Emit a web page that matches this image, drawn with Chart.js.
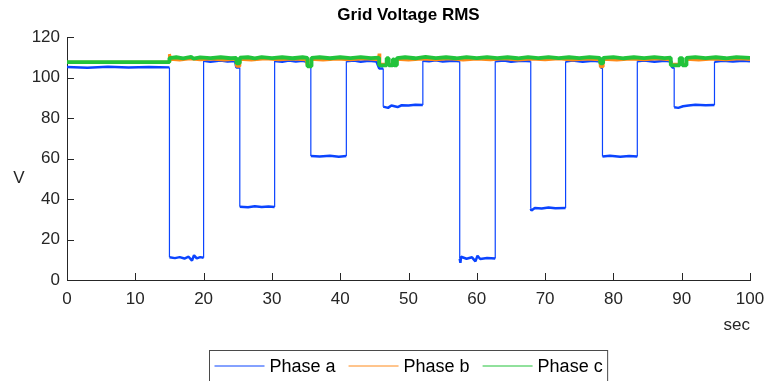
<!DOCTYPE html>
<html>
<head>
<meta charset="utf-8">
<title>Grid Voltage RMS</title>
<script src="https://cdn.jsdelivr.net/npm/chart.js@4.4.1/dist/chart.umd.min.js"></script>
<style>
  html, body { margin: 0; padding: 0; background: #fff; }
  canvas { display: block; }
</style>
</head>
<body>
<canvas id="rms" width="767" height="381"></canvas>
<script>
// [time in sec, RMS volts]
const phaseA = [
  [0,105.2],[3,104.8],[6,105.3],[9,104.9],[12,105.2],[15,105],
  [15,11.2],[15.8,10.8],[16.5,11.3],[17.2,10.6],[17.8,11.5],[18.3,9.6],[18.6,12.2],[19,10.7],[19.5,11.3],[20,11],
  [20,108.3],[21,107.8],[22.5,108.4],[23.5,107.9],[24.6,108.2],[24.8,105],[25.3,105],
  [25.3,36.2],[26.5,35.9],[27.5,36.4],[28.5,36],[29.5,36.3],[30.4,36],
  [30.4,108.2],[31.5,107.8],[32.5,108.4],[33.5,107.9],[34.5,108.3],[35.2,107.6],[35.3,106],[35.7,106],
  [35.7,61.2],[37,61],[38.5,61.4],[39.8,60.9],[40.9,61.2],
  [40.9,108],[42,108.4],[43,107.8],[44.2,108.3],[45.3,107.9],[45.7,104.5],[46.3,104.5],
  [46.3,85.6],[47,85],[47.5,86.2],[48.4,85.4],[49,86.3],[50,86.2],[51,86.5],[52.1,86.4],
  [52.1,108.3],[53,108],[54,108.5],[55,107.9],[56.5,108.3],[57.5,108],
  [57.5,10.5],[57.6,8.5],[57.7,11.5],[58.5,10.5],[59.3,11.2],[59.8,9.2],[60.1,12],[60.5,10.4],[61.5,10.9],[62.7,10.6],
  [62.7,108],[64,108.4],[65,107.8],[66.5,108.3],[67.9,108],
  [67.9,35.2],[68,34.3],[68.5,35.6],[69.5,35.3],[70.5,35.8],[71.5,35.4],[73,35.6],
  [73,107.9],[74,108.4],[75.5,107.8],[77,108.3],[78.1,107.9],[78.2,104.8],[78.4,104.8],
  [78.4,61],[79.5,61.3],[81,60.9],[82.3,61.2],[83.5,61],
  [83.5,108],[84.5,108.4],[86,107.8],[87.5,108.3],[88.5,107.9],[88.6,105],[88.9,105],
  [88.9,85.3],[89.5,85],[90.2,85.8],[91,86.2],[92,86.5],[93.5,86.3],[94.8,86.4],
  [94.8,107.8],[96,108.3],[97.5,107.9],[99,108.3],[100,108]
];

const phaseB = [
  [0,107.5],[15,107.5],[15,111.5],[15.2,109],[16.5,108.7],[18,109.2],[19.5,108.8],[21,109.1],[23,108.7],[24.8,109],
  [24.8,105.5],[25.3,105.5],[25.3,109],[27,108.7],[29,109.2],[31,108.8],[33,109.1],[35,108.8],
  [35.2,106],[35.7,106],[35.7,109],[37.5,108.7],[39.5,109.1],[41.5,108.8],[43.5,109.2],[45.6,108.8],
  [45.7,111.8],[45.8,106.5],[48.3,106.5],[48.3,109],[50,108.7],[52,109.1],[54,108.8],[56,109.2],[58,108.7],
  [60,109.1],[62,108.8],[64,109.2],[66,108.7],[68,109.1],[70,108.8],[72,109.2],[74,108.7],[76,109.1],[78,108.8],
  [78.1,105.3],[78.5,105.3],[78.5,109],[80.5,108.7],[82.5,109.1],[84.5,108.8],[86.5,109.2],[88.3,108.8],
  [88.4,106.5],[90.7,106.5],[90.7,109],[92.5,108.7],[94.5,109.1],[96.5,108.8],[98.5,109.2],[100,108.9]
];

const phaseC = [
  [0,107.6],[15,107.6],[15,109.6],[16,110],[17,109.5],[18.2,110.2],[18.5,109.3],[19.5,109.9],[21,109.6],[22.5,110],[24,109.5],[24.8,109.7],
  [24.8,107],[25.3,107],[25.3,109.8],[26.5,110],[27.5,109.5],[28.5,110.1],[30,109.6],[31.5,110],[33,109.5],[34.5,110],[35.2,109.7],
  [35.2,105.5],[35.8,105.5],[35.8,109.7],[37,110],[38.5,109.5],[40,110],[41.5,109.6],[43,110.1],[44.5,109.6],[45.7,109.8],
  [45.7,106],[46.8,106],[46.8,109.5],[47.1,109.5],[47.1,106],[47.7,106],[47.7,109],[47.9,109],[47.9,106],[48.3,106],
  [48.3,109.6],[49.5,110],[51,109.5],[52.5,110.2],[54,109.6],[55.5,110],[57,109.5],[58.5,110.1],[60,109.6],[61.5,110.1],
  [63,109.6],[64.5,110],[66,109.5],[67.5,110.1],[69,109.6],[70.5,110.1],[72,109.6],[73.5,110],[75,109.6],[76.5,110.1],[78,109.7],
  [78.1,107],[78.5,107],[78.5,109.7],[80,110.1],[81.5,109.5],[83,110],[84.5,109.6],[86,110.1],[87.5,109.6],[88.4,109.8],
  [88.4,106],[89.7,106],[89.7,109.6],[90.1,109.6],[90.1,106],[90.7,106],
  [90.7,109.7],[92,110.1],[93.5,109.6],[95,110],[96.5,109.5],[98,110.1],[100,109.7]
];

const seriesNames = ['Phase a', 'Phase b', 'Phase c'];
const seriesColors = ['#0b44ff', '#ff8a1a', '#22c33b'];
const xTicks = [0, 10, 20, 30, 40, 50, 60, 70, 80, 90, 100];
const yTicks = [0, 20, 40, 60, 80, 100, 120];

const FONT = '"Liberation Sans", Arial, Helvetica, sans-serif';
const INK = '#262626';

const toPoints = rows => rows.map(([x, y]) => ({ x, y }));
// steps are stored as two samples at the same time; the deep phase a steps are drawn thinner
const thinSteps = ctx => ctx.p0.parsed.x === ctx.p1.parsed.x ? 1.2 : undefined;

const makeSet = (i, data, width, order, segment) => ({
  label: seriesNames[i],
  data: toPoints(data),
  borderColor: seriesColors[i],
  backgroundColor: seriesColors[i],
  borderWidth: width,
  borderJoinStyle: 'bevel',
  pointRadius: 0,
  tension: 0,
  order: order,
  segment: segment || {}
});

// inward ticks, axis labels, title and boxed legend
const decorations = {
  id: 'decorations',
  afterDatasetsDraw(chart) {
    const { ctx, chartArea: a, scales } = chart;
    ctx.save();
    ctx.strokeStyle = INK;
    ctx.lineWidth = 1;
    ctx.beginPath();
    xTicks.forEach(v => {
      const px = Math.round(scales.x.getPixelForValue(v)) + 0.5;
      ctx.moveTo(px, a.bottom);
      ctx.lineTo(px, a.bottom - 7);
    });
    yTicks.forEach(v => {
      const py = Math.round(scales.y.getPixelForValue(v)) + 0.5;
      ctx.moveTo(a.left, py);
      ctx.lineTo(a.left + 7, py);
    });
    ctx.stroke();
    ctx.restore();
  },
  afterDraw(chart) {
    const { ctx, chartArea: a } = chart;
    const cx = (a.left + a.right) / 2;
    ctx.save();
    ctx.textBaseline = 'middle';

    ctx.fillStyle = '#000';
    ctx.font = 'bold 17px ' + FONT;
    ctx.textAlign = 'center';
    ctx.fillText('Grid Voltage RMS', cx, 15);

    ctx.fillStyle = INK;
    ctx.font = '17px ' + FONT;
    ctx.fillText('V', 19, 178);
    ctx.textAlign = 'right';
    ctx.fillText('sec', a.right, 325);

    // legend
    ctx.font = '18px ' + FONT;
    ctx.textAlign = 'left';
    const widths = seriesNames.map(n => ctx.measureText(n).width);
    const lineLen = 50, gap = 5, sep = 13, pad = 5;
    const boxW = pad * 2 + widths.reduce((s, w) => s + lineLen + gap + w, 0) + sep * (seriesNames.length - 1);
    const boxL = Math.round(cx - boxW / 2) + 0.5;
    const boxT = 350.5;
    ctx.fillStyle = '#fff';
    ctx.fillRect(boxL, boxT, boxW, 40);
    ctx.strokeStyle = '#4a4a4a';
    ctx.lineWidth = 1;
    ctx.strokeRect(boxL, boxT, boxW, 40);
    let x = boxL + pad;
    const ly = 366;
    seriesNames.forEach((n, i) => {
      ctx.strokeStyle = seriesColors[i];
      ctx.beginPath();
      ctx.moveTo(x, ly);
      ctx.lineTo(x + lineLen, ly);
      ctx.stroke();
      ctx.fillStyle = '#000';
      ctx.fillText(n, x + lineLen + gap, ly + 1);
      x += lineLen + gap + widths[i] + sep;
    });
    ctx.restore();
  }
};

new Chart(document.getElementById('rms'), {
  type: 'line',
  data: {
    datasets: [
      makeSet(0, phaseA, 2.5, 2, { borderWidth: thinSteps }),
      makeSet(1, phaseB, 3, 1),
      makeSet(2, phaseC, 3.8, 0)
    ]
  },
  options: {
    responsive: false,
    animation: false,
    devicePixelRatio: 1,
    layout: { padding: { top: 37, right: 17, left: 0, bottom: 31 } },
    plugins: {
      legend: { display: false },
      title: { display: false },
      tooltip: { enabled: false }
    },
    scales: {
      x: {
        type: 'linear',
        min: 0,
        max: 100,
        afterFit: s => { s.height = 70; s.paddingLeft = 0; s.paddingRight = 0; },
        afterBuildTicks: s => { s.ticks = xTicks.map(v => ({ value: v })); },
        grid: { display: false, drawTicks: false },
        border: { display: true, color: INK, width: 1 },
        ticks: { color: INK, font: { family: FONT, size: 17 }, padding: 9, maxRotation: 0 }
      },
      y: {
        type: 'linear',
        min: 0,
        max: 120,
        afterFit: s => { s.width = 67; s.paddingTop = 0; s.paddingBottom = 0; },
        afterBuildTicks: s => { s.ticks = yTicks.map(v => ({ value: v })); },
        grid: { display: false, drawTicks: false },
        border: { display: true, color: INK, width: 1 },
        ticks: { color: INK, font: { family: FONT, size: 17 }, padding: 7 }
      }
    }
  },
  plugins: [decorations]
});
</script>
</body>
</html>
